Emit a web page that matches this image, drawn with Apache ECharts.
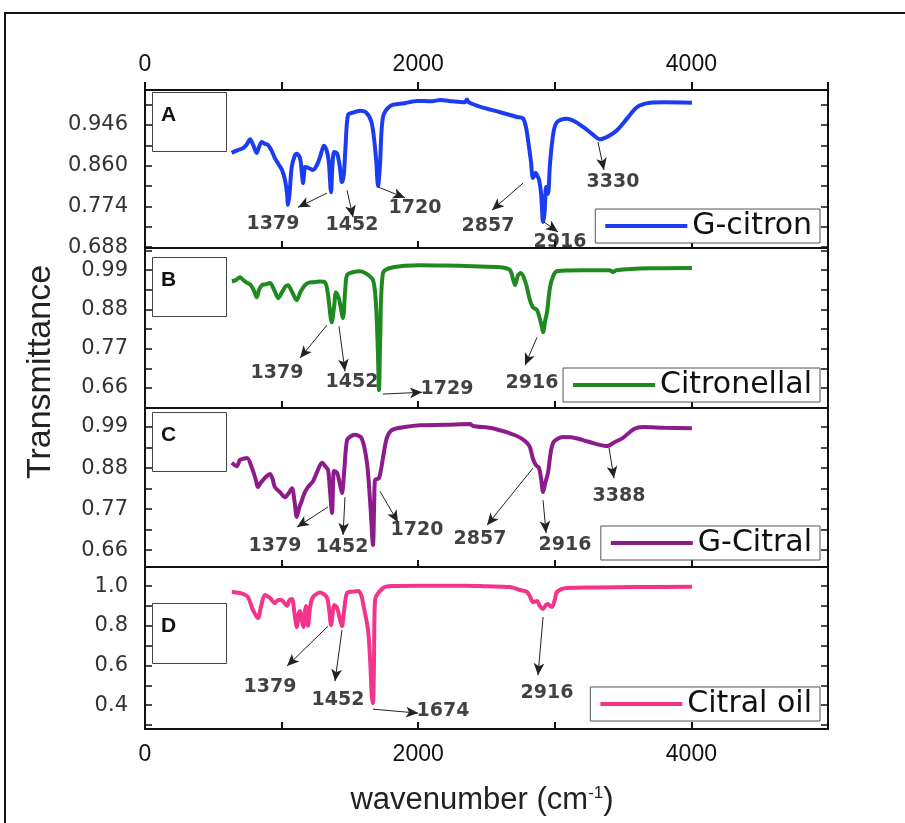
<!DOCTYPE html>
<html>
<head>
<meta charset="utf-8">
<script src="https://cdn.jsdelivr.net/npm/echarts@6/dist/echarts.min.js"></script>
<style>
  html, body { margin: 0; padding: 0; background: #fff; }
  #main { width: 905px; height: 823px; }
</style>
</head>
<body>
<div id="main"></div>
<script>
// spectra: wavenumber (cm-1) and transmittance
var names = ['G-citron', 'Citronellal', 'G-Citral', 'Citral oil'];
var letters = ['A', 'B', 'C', 'D'];
var colors = ['#1c3cf2', '#1f8a1f', '#8c1c8c', '#f2358a'];

var aWave = [635, 680, 718, 745, 769, 790, 818, 835, 855, 880, 900, 925, 951, 980, 1003, 1025, 1040, 1047, 1058, 1074, 1095, 1111, 1135, 1150, 1157, 1165, 1171, 1200, 1230, 1260, 1281, 1310, 1330, 1345, 1362, 1372, 1385, 1406, 1425, 1442, 1455, 1468, 1486, 1520, 1574, 1620, 1660, 1690, 1706, 1720, 1742, 1794, 1900, 1991, 2100, 2160, 2250, 2340, 2357, 2370, 2450, 2600, 2723, 2767, 2790, 2804, 2825, 2840, 2860, 2870, 2885, 2900, 2914, 2925, 2936, 2950, 2965, 2990, 3016, 3089, 3150, 3207, 3270, 3331, 3390, 3455, 3530, 3602, 3697, 3800, 4004];
var aTrans = [0.887, 0.893, 0.897, 0.905, 0.916, 0.905, 0.887, 0.900, 0.910, 0.906, 0.904, 0.893, 0.876, 0.862, 0.851, 0.830, 0.800, 0.777, 0.800, 0.857, 0.880, 0.885, 0.876, 0.840, 0.823, 0.845, 0.857, 0.855, 0.851, 0.862, 0.878, 0.902, 0.892, 0.870, 0.804, 0.860, 0.889, 0.886, 0.860, 0.825, 0.840, 0.900, 0.967, 0.972, 0.976, 0.972, 0.950, 0.880, 0.817, 0.860, 0.963, 0.986, 0.992, 0.997, 0.996, 0.999, 0.996, 0.994, 1.000, 0.994, 0.985, 0.973, 0.963, 0.960, 0.940, 0.914, 0.870, 0.834, 0.845, 0.840, 0.830, 0.800, 0.741, 0.760, 0.815, 0.800, 0.865, 0.930, 0.952, 0.959, 0.953, 0.942, 0.928, 0.916, 0.922, 0.935, 0.960, 0.984, 0.993, 0.994, 0.993];

var bWave = [636, 665, 695, 720, 745, 770, 795, 818, 835, 855, 880, 915, 945, 976, 1005, 1030, 1047, 1075, 1111, 1140, 1171, 1200, 1230, 1280, 1318, 1340, 1367, 1385, 1398, 1420, 1449, 1465, 1479, 1520, 1574, 1620, 1669, 1690, 1705, 1713, 1722, 1742, 1816, 2013, 2200, 2400, 2599, 2672, 2709, 2730, 2752, 2790, 2815, 2840, 2870, 2900, 2914, 2930, 2943, 2965, 2990, 3016, 3200, 3400, 3426, 3450, 3700, 4004];
var bTrans = [0.959, 0.962, 0.970, 0.962, 0.955, 0.950, 0.935, 0.914, 0.935, 0.948, 0.950, 0.954, 0.935, 0.912, 0.930, 0.945, 0.948, 0.930, 0.906, 0.930, 0.948, 0.955, 0.956, 0.958, 0.956, 0.920, 0.844, 0.890, 0.928, 0.910, 0.856, 0.930, 0.976, 0.984, 0.987, 0.980, 0.962, 0.900, 0.760, 0.654, 0.800, 0.982, 0.998, 1.004, 1.003, 1.001, 0.998, 0.990, 0.948, 0.975, 0.982, 0.950, 0.910, 0.886, 0.878, 0.840, 0.816, 0.850, 0.872, 0.942, 0.975, 0.987, 0.990, 0.990, 0.985, 0.990, 0.995, 0.996];

var cWave = [636, 672, 695, 720, 747, 783, 810, 827, 845, 864, 890, 915, 935, 951, 990, 1025, 1050, 1076, 1095, 1111, 1130, 1149, 1170, 1193, 1230, 1260, 1296, 1320, 1340, 1352, 1369, 1378, 1384, 1406, 1425, 1442, 1458, 1479, 1510, 1537, 1586, 1625, 1650, 1669, 1678, 1684, 1713, 1742, 1770, 1808, 1900, 2013, 2200, 2382, 2400, 2550, 2723, 2790, 2818, 2840, 2862, 2885, 2900, 2914, 2930, 2950, 2987, 3060, 3130, 3207, 3300, 3382, 3440, 3499, 3580, 3646, 3800, 4004];
var cTrans = [0.894, 0.885, 0.902, 0.905, 0.907, 0.880, 0.850, 0.829, 0.840, 0.848, 0.858, 0.864, 0.850, 0.829, 0.815, 0.802, 0.812, 0.826, 0.790, 0.749, 0.775, 0.794, 0.815, 0.829, 0.845, 0.870, 0.894, 0.885, 0.875, 0.830, 0.760, 0.850, 0.872, 0.868, 0.840, 0.813, 0.870, 0.955, 0.966, 0.969, 0.960, 0.894, 0.780, 0.674, 0.790, 0.848, 0.853, 0.907, 0.960, 0.982, 0.990, 0.995, 0.996, 0.998, 0.993, 0.986, 0.966, 0.950, 0.936, 0.905, 0.888, 0.880, 0.850, 0.816, 0.840, 0.867, 0.947, 0.963, 0.962, 0.955, 0.945, 0.939, 0.950, 0.961, 0.985, 0.990, 0.988, 0.987];

var dWave = [636, 665, 695, 725, 754, 790, 827, 850, 878, 915, 951, 975, 1000, 1020, 1040, 1058, 1076, 1095, 1111, 1125, 1135, 1147, 1159, 1170, 1178, 1186, 1193, 1210, 1230, 1281, 1330, 1348, 1362, 1375, 1384, 1406, 1425, 1442, 1458, 1479, 1520, 1562, 1585, 1596, 1633, 1650, 1660, 1669, 1676, 1684, 1742, 1816, 2000, 2200, 2357, 2500, 2672, 2745, 2796, 2820, 2840, 2870, 2890, 2914, 2935, 2950, 2965, 2980, 3000, 3016, 3089, 3309, 3600, 4004];
var dTrans = [0.970, 0.968, 0.965, 0.958, 0.945, 0.880, 0.839, 0.900, 0.955, 0.940, 0.914, 0.930, 0.930, 0.915, 0.900, 0.930, 0.935, 0.860, 0.794, 0.860, 0.875, 0.830, 0.794, 0.870, 0.900, 0.850, 0.800, 0.900, 0.945, 0.967, 0.945, 0.880, 0.803, 0.870, 0.905, 0.890, 0.840, 0.798, 0.880, 0.965, 0.972, 0.975, 0.950, 0.914, 0.778, 0.600, 0.450, 0.410, 0.600, 0.930, 0.990, 1.000, 1.002, 1.001, 1.002, 0.999, 0.995, 0.980, 0.970, 0.945, 0.919, 0.925, 0.900, 0.884, 0.905, 0.910, 0.900, 0.895, 0.930, 0.970, 0.990, 0.993, 0.995, 0.996];

// peak labels: [label x, label y, text, arrow from x, from y, arrow to x, to y]
var aPeaks = [
  [937, 0.737, '1379', 1332, 0.802, 1120, 0.772],
  [1515, 0.735, '1452', 1479, 0.808, 1523, 0.751],
  [1977, 0.770, '1720', 1706, 0.815, 1903, 0.792],
  [2511, 0.732, '2857', 2767, 0.823, 2540, 0.766],
  [3038, 0.698, '2916', 2921, 0.741, 3023, 0.720],
  [3426, 0.825, '3330', 3316, 0.910, 3360, 0.851]
];
var bPeaks = [
  [966, 0.702, '1379', 1332, 0.836, 1135, 0.744],
  [1515, 0.676, '1452', 1420, 0.833, 1464, 0.707],
  [2211, 0.657, '1729', 1742, 0.643, 2028, 0.648],
  [2833, 0.674, '2916', 2870, 0.802, 2782, 0.724]
];
var cPeaks = [
  [951, 0.671, '1379', 1340, 0.776, 1113, 0.722],
  [1442, 0.668, '1452', 1464, 0.802, 1450, 0.701],
  [1991, 0.714, '1720', 1720, 0.818, 1852, 0.735],
  [2452, 0.690, '2857', 2840, 0.880, 2504, 0.727],
  [3075, 0.674, '2916', 2914, 0.794, 2936, 0.706],
  [3470, 0.805, '3388', 3397, 0.934, 3433, 0.853]
];
var dPeaks = [
  [915, 0.491, '1379', 1340, 0.798, 1040, 0.597],
  [1413, 0.425, '1452', 1442, 0.778, 1391, 0.521],
  [2182, 0.370, '1674', 1669, 0.380, 1999, 0.360],
  [2943, 0.461, '2916', 2914, 0.844, 2877, 0.551]
];

// y ranges and tick values of each panel
var yMins = [0.686, 0.604, 0.615, 0.28];
var yMaxs = [1.02, 1.052, 1.041, 1.096];
var aTicks = [0.688, 0.731, 0.774, 0.817, 0.860, 0.903, 0.946, 0.989];
var aTickLabels = [0.688, 0.774, 0.860, 0.946];
var bcTicks = [0.66, 0.715, 0.77, 0.825, 0.88, 0.935, 0.99, 1.045];
var bcTickLabels = [0.66, 0.77, 0.88, 0.99];
var dTicks = [0.3, 0.4, 0.5, 0.6, 0.7, 0.8, 0.9, 1.0];
var dTickLabels = [0.4, 0.6, 0.8, 1.0];
var xTickLabels = [0, 2000, 4000];

var waves = [aWave, bWave, cWave, dWave];
var trans = [aTrans, bTrans, cTrans, dTrans];
var peaks = [aPeaks, bPeaks, cPeaks, dPeaks];
var ticks = [aTicks, bcTicks, bcTicks, dTicks];
var tickLabels = [aTickLabels, bcTickLabels, bcTickLabels, dTickLabels];
var yDigits = [3, 2, 2, 1];

// panel layout (pixels)
var gridTops = [90, 248, 408, 567];
var gridHeights = [158, 160, 159, 162];
var legendTops = [209, 368, 526, 687];
var letterBoxes = [[152, 92, 74, 59], [152, 257, 74, 59], [152, 412, 74, 59], [152, 603, 74, 60]];

var myChart = echarts.init(document.getElementById('main'));

var numFont = 'DejaVu Sans';
var grids = [], xAxes = [], yAxes = [], series = [], legends = [], graphics = [];

for (var i = 0; i < 4; i++) {
  grids.push({ left: 145, right: 77, top: gridTops[i], height: gridHeights[i], containLabel: false });

  // bottom x axis of each panel
  xAxes.push({
    type: 'value', gridIndex: i, min: 0, max: 5000, interval: 1000, position: 'bottom',
    axisLine: { show: true, onZero: false, lineStyle: { color: '#111', width: 2 } },
    axisTick: { show: true, inside: true, length: 7, lineStyle: { color: '#111', width: 2 } },
    axisLabel: {
      show: i === 3, margin: 14, color: '#111', fontSize: 23,
      fontFamily: "'Liberation Sans Narrow', 'Liberation Sans', sans-serif",
      formatter: function (v) { return xTickLabels.indexOf(v) >= 0 ? String(v) : ''; }
    },
    splitLine: { show: false }
  });

  var yl = tickLabels[i], dg = yDigits[i];
  yAxes.push({
    type: 'value', gridIndex: i, min: yMins[i], max: yMaxs[i], position: 'left',
    axisLine: { show: true, onZero: false, lineStyle: { color: '#111', width: 2 } },
    axisTick: { show: true, inside: true, length: 7, customValues: ticks[i], lineStyle: { color: '#111', width: 1.5 } },
    axisLabel: {
      show: true, customValues: yl, margin: 17, color: '#333', fontSize: 21, fontFamily: numFont,
      formatter: (function (d) { return function (v) { return v.toFixed(d); }; })(dg)
    },
    splitLine: { show: false }
  });
  yAxes.push({
    type: 'value', gridIndex: i, min: yMins[i], max: yMaxs[i], position: 'right',
    axisLine: { show: true, onZero: false, lineStyle: { color: '#111', width: 2 } },
    axisTick: { show: true, inside: true, length: 7, customValues: ticks[i], lineStyle: { color: '#111', width: 1.5 } },
    axisLabel: { show: false },
    splitLine: { show: false }
  });

  var pts = waves[i].map(function (w, k) { return [w, trans[i][k]]; });
  var arrows = peaks[i].map(function (p) {
    return [{ coord: [p[3], p[4]] }, { coord: [p[5], p[6]] }];
  });
  series.push({
    name: names[i], type: 'line', xAxisIndex: i, yAxisIndex: i * 2,
    data: pts, showSymbol: false, smooth: 0.3,
    lineStyle: { color: colors[i], width: 4 },
    itemStyle: { color: colors[i] },
    markLine: {
      silent: true, symbol: ['none', 'arrow'], symbolSize: [8, 12],
      lineStyle: { color: '#222', width: 1, type: 'solid' },
      label: { show: false }, emphasis: { disabled: true },
      data: arrows
    }
  });
  series.push({
    name: 'peaks' + i, type: 'scatter', xAxisIndex: i, yAxisIndex: i * 2,
    symbolSize: 1, itemStyle: { color: 'rgba(0,0,0,0)' }, silent: true,
    data: peaks[i].map(function (p) { return [p[0], p[1], p[2]]; }),
    label: {
      show: true, position: 'inside', color: '#111', fontSize: 19, fontWeight: 'bold', fontFamily: numFont,
      formatter: function (p) { return p.data[2]; }
    }
  });

  legends.push({
    data: [names[i]], right: 85, top: legendTops[i], orient: 'horizontal',
    icon: 'rect', itemWidth: 82, itemHeight: 4, itemGap: 10,
    backgroundColor: '#fff', borderColor: '#555', borderWidth: 1, borderRadius: 0,
    padding: [2, 8, 2, 10], selectedMode: false,
    textStyle: { fontSize: 30, color: '#111', fontFamily: numFont }
  });

  var lb = letterBoxes[i];
  graphics.push({
    type: 'rect', left: lb[0], top: lb[1], z: 10,
    shape: { width: lb[2], height: lb[3] },
    style: { fill: '#fff', stroke: '#444', lineWidth: 1 }
  });
  graphics.push({
    type: 'text', left: lb[0] + 9, top: lb[1] + 13, z: 11,
    style: { text: letters[i], fontSize: 21, fontWeight: 'bold', fill: '#111', fontFamily: 'Liberation Sans' }
  });
}

// top axis of the first panel
xAxes.push({
  type: 'value', gridIndex: 0, min: 0, max: 5000, interval: 1000, position: 'top',
  axisLine: { show: true, onZero: false, lineStyle: { color: '#111', width: 2 } },
  axisTick: { show: true, length: 8, lineStyle: { color: '#111', width: 2 } },
  axisLabel: {
    show: true, margin: 14, color: '#111', fontSize: 23,
    fontFamily: "'Liberation Sans Narrow', 'Liberation Sans', sans-serif",
    formatter: function (v) { return xTickLabels.indexOf(v) >= 0 ? String(v) : ''; }
  },
  splitLine: { show: false }
});

// outer frame and axis titles
graphics.push({
  type: 'polyline', z: 5,
  shape: { points: [[5, 823], [5, 13], [905, 13]] },
  style: { stroke: '#111', lineWidth: 2, fill: null }
});
graphics.push({
  type: 'text', x: 41, y: 372, rotation: Math.PI / 2, z: 5,
  style: { text: 'Transmittance', fontSize: 34, fill: '#222', fontFamily: 'Liberation Sans', align: 'center', verticalAlign: 'middle' }
});
graphics.push({
  type: 'text', x: 482, y: 800, z: 5,
  style: {
    text: 'wavenumber (cm{sup|-1})', fontSize: 31, fill: '#222', fontFamily: 'Liberation Sans',
    align: 'center', verticalAlign: 'middle',
    rich: { sup: { fontSize: 17, verticalAlign: 'top', padding: [0, 0, 14, 0], fontFamily: 'Liberation Sans', fill: '#222' } }
  }
});

var option = {
  animation: false,
  backgroundColor: '#fff',
  grid: grids,
  xAxis: xAxes,
  yAxis: yAxes,
  legend: legends,
  series: series,
  graphic: graphics
};

myChart.setOption(option);
</script>
</body>
</html>
